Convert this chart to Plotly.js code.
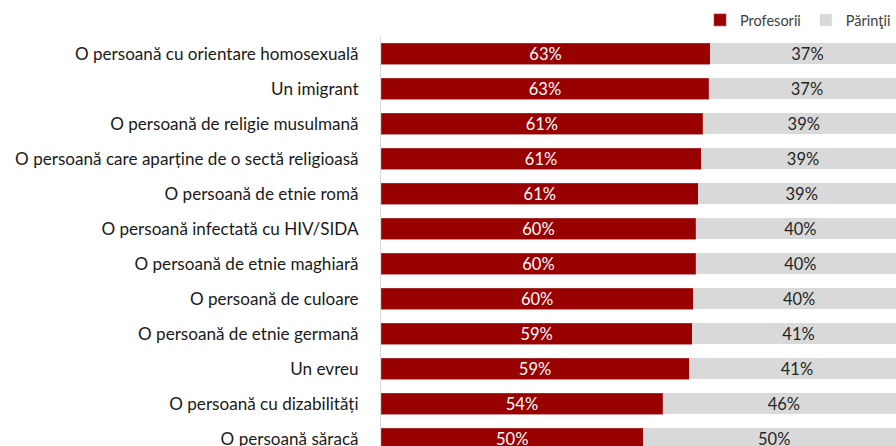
<!DOCTYPE html>
<html>
<head>
<meta charset="utf-8">
<script src="https://cdn.plot.ly/plotly-3.0.1.min.js"></script>
<style>html,body{margin:0;padding:0;background:#fff;}#chart{width:896px;height:446px;}</style>
</head>
<body>
<div id="chart"></div>
<script>
const categories = [
  "O persoană cu orientare homosexuală",
  "Un imigrant",
  "O persoană de religie musulmană",
  "O persoană care aparține de o sectă religioasă",
  "O persoană de etnie romă",
  "O persoană infectată cu HIV/SIDA",
  "O persoană de etnie maghiară",
  "O persoană de culoare",
  "O persoană de etnie germană",
  "Un evreu",
  "O persoană cu dizabilități",
  "O persoană săracă"
];
const profesorii = [0.628, 0.626, 0.614, 0.611, 0.606, 0.601, 0.601, 0.596, 0.594, 0.588, 0.538, 0.501];
const parintii = profesorii.map(v => +(1 - v).toFixed(3));

const FONT = "Lato, 'Open Sans', sans-serif";

const traces = [
  {
    type: "bar", orientation: "h", name: "Profesorii",
    y: categories, x: profesorii,
    marker: {color: "#990000", line: {color: "#b04848", width: 0.6}},
    texttemplate: "%{x:.0%}", textposition: "inside", insidetextanchor: "middle",
    constraintext: "none",
    textfont: {color: "#ffffff", size: 16.5, family: FONT},
    hoverinfo: "skip"
  },
  {
    type: "bar", orientation: "h", name: "Părinţii",
    y: categories, x: parintii,
    marker: {color: "#d9d9d9"},
    texttemplate: "%{x:.0%}", textposition: "inside", insidetextanchor: "middle",
    constraintext: "none",
    textfont: {color: "#262626", size: 16.5, family: FONT},
    hoverinfo: "skip"
  }
];

const layout = {
  width: 896, height: 446,
  margin: {l: 381, r: 0, t: 36, b: 0, pad: 0, autoexpand: false},
  barmode: "stack", bargap: 0.4,
  paper_bgcolor: "#ffffff", plot_bgcolor: "#ffffff",
  font: {family: FONT, color: "#1a1a1a"},
  showlegend: true,
  legend: {
    orientation: "h", x: 1, xanchor: "right", y: 1, yanchor: "bottom",
    font: {size: 14.5, color: "#404040", family: FONT},
    itemwidth: 30, traceorder: "normal", bgcolor: "rgba(0,0,0,0)"
  },
  xaxis: {
    range: [0, 0.983], showgrid: false, zeroline: false,
    showticklabels: false, showline: false, fixedrange: true
  },
  yaxis: {
    type: "category", range: [11.2, -0.5], autorange: false,
    showgrid: false, zeroline: false,
    showline: true, linecolor: "#d9d9d9", linewidth: 1,
    ticks: "", ticklabelstandoff: 18,
    tickfont: {size: 17.1, color: "#1a1a1a", family: FONT}
  }
};

Plotly.newPlot("chart", traces, layout, {displayModeBar: false, staticPlot: true});
</script>
</body>
</html>
